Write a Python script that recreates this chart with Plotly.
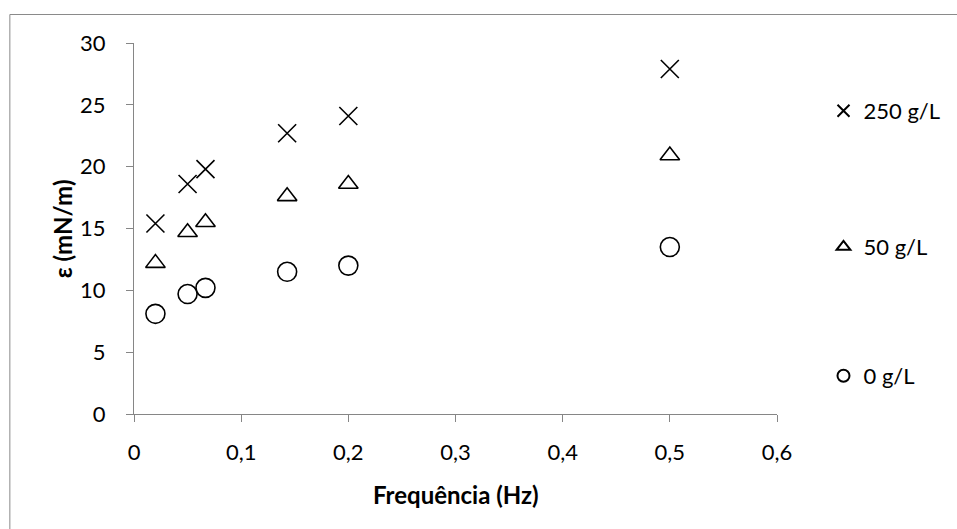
import plotly.graph_objects as go

# Oscillation frequency (Hz) and elasticity (mN/m) for each concentration
frequencia = [0.02, 0.05, 0.0667, 0.1429, 0.2, 0.5]
eps_250 = [15.4, 18.6, 19.8, 22.7, 24.1, 27.9]
eps_50 = [12.2, 14.7, 15.5, 17.6, 18.6, 20.9]
eps_0 = [8.1, 9.7, 10.2, 11.5, 12.0, 13.5]

series_names = ["250 g/L", "50 g/L", "0 g/L"]
series_values = [eps_250, eps_50, eps_0]
series_symbols = ["x-thin-open", "triangle-up-open", "circle-open"]
series_sizes = [18, 17, 19]
legend_ids = ["legend", "legend2", "legend3"]

FONT = "Lato, 'Open Sans', sans-serif"
AXIS_GREY = "#868686"

W, H = 957, 529
M_L, M_R, M_T, M_B = 134, 173, 43, 115
PW, PH = W - M_L - M_R, H - M_T - M_B


def px_x(x):
    return (x - M_L) / PW


def px_y(y):
    return (H - M_B - y) / PH


fig = go.Figure()
for name, vals, sym, size, leg in zip(series_names, series_values, series_symbols,
                                      series_sizes, legend_ids):
    fig.add_trace(go.Scatter(
        x=frequencia, y=vals, mode="markers", name=name, legend=leg,
        marker=dict(symbol=sym, size=size, color="black",
                    line=dict(color="black", width=1.6)),
    ))

legend_rows = [111, 247, 376]
legend_common = dict(
    xanchor="left", yanchor="middle", bgcolor="rgba(0,0,0,0)",
    font=dict(family=FONT, size=22, color="black"),
    itemsizing="constant", borderwidth=0,
)

fig.update_layout(
    width=W, height=H,
    margin=dict(l=M_L, r=M_R, t=M_T, b=M_B, pad=0),
    paper_bgcolor="white", plot_bgcolor="white",
    separators=", ",
    font=dict(family=FONT, size=22, color="black"),
    showlegend=True,
    legend=dict(x=px_x(831), y=px_y(legend_rows[0]), **legend_common),
    legend2=dict(x=px_x(831), y=px_y(legend_rows[1]), **legend_common),
    legend3=dict(x=px_x(831), y=px_y(legend_rows[2]), **legend_common),
    xaxis=dict(
        range=[0, 0.6], dtick=0.1, tick0=0,
        showgrid=False, zeroline=False,
        showline=True, linecolor=AXIS_GREY, linewidth=1,
        ticks="outside", ticklen=7, tickcolor=AXIS_GREY, tickwidth=1,
        ticklabelstandoff=12,
        tickfont=dict(family=FONT, size=22, color="black"),
    ),
    yaxis=dict(
        range=[0, 30], dtick=5, tick0=0,
        showgrid=False, zeroline=False,
        showline=True, linecolor=AXIS_GREY, linewidth=1,
        ticks="outside", ticklen=7, tickcolor=AXIS_GREY, tickwidth=1,
        ticklabelstandoff=16,
        tickfont=dict(family=FONT, size=22, color="black"),
    ),
    shapes=[dict(
        type="rect", xref="paper", yref="paper",
        x0=px_x(8.5), y0=px_y(14.5), x1=px_x(W + 20), y1=px_y(H + 20),
        line=dict(color="#8a8a8a", width=1), fillcolor="rgba(0,0,0,0)",
        layer="below",
    )],
    annotations=[
        dict(text="<b>Frequência (Hz)</b>", xref="paper", yref="paper",
             x=0.5, y=px_y(495), xanchor="center", yanchor="middle",
             showarrow=False, font=dict(family=FONT, size=24, color="black")),
        dict(text="<b>ε (mN/m)</b>", xref="paper", yref="paper",
             x=px_x(62), y=0.5, xanchor="center", yanchor="middle",
             textangle=-90, showarrow=False,
             font=dict(family=FONT, size=24, color="black")),
    ],
)

fig.write_html("out.html")
